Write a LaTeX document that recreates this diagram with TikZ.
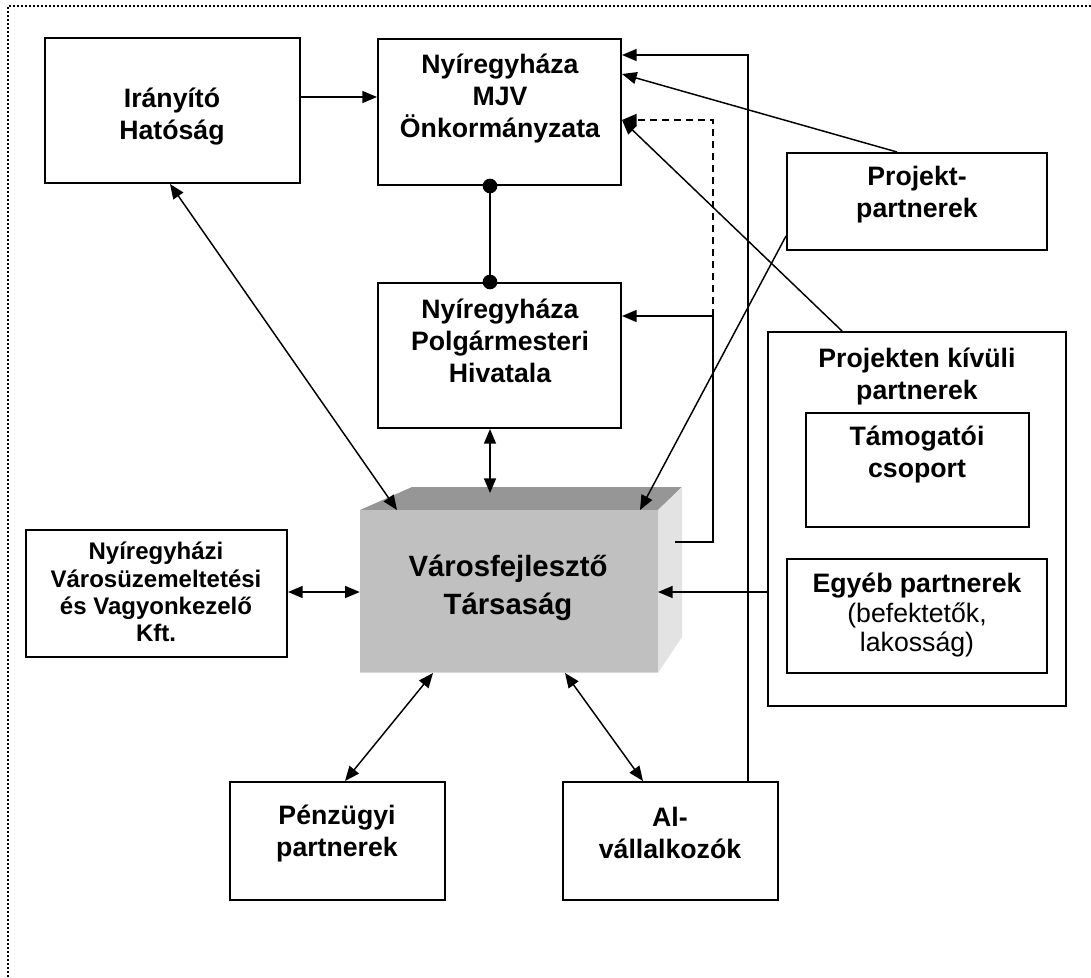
\documentclass[tikz,border=0pt]{standalone}
\usepackage{fontspec}
\setmainfont{Liberation Sans}
\usetikzlibrary{arrows.meta,fit}
\begin{document}
\begin{tikzpicture}[x=0.75pt,y=-0.75pt,
  box/.style={draw,line width=1.5pt,inner sep=0pt},
  lbl/.style={align=center,font=\fontsize{20}{24}\selectfont\bfseries,inner sep=0pt},
  conn/.style={line width=1.1pt},
  tip/.tip={Triangle[length=11pt,width=9pt]},
  arr/.style={conn,-tip},
  darr/.style={conn,tip-tip},
  border/.style={line width=1.6pt,dash pattern=on 1.5pt off 1.5pt}
  ]
\useasboundingbox (0,0) rectangle (1091,977);
\draw[border] (8,977) -- (8,6) -- (1091,6);

% boxes
\node[box,fit={(45,38) (300,183)}] (ir) {};
\node[box,fit={(378,39) (621,185)}] (mjv) {};
\node[box,fit={(378,283) (621,428)}] (pol) {};
\node[box,fit={(787,153) (1047,250)}] (pp) {};
\node[box,fit={(768,332) (1066,706)}] (pk) {};
\node[box,fit={(806,413) (1029,527)}] (tc) {};
\node[box,fit={(787,559) (1047,673)}] (ep) {};
\node[box,fit={(26,530) (287,657)}] (vu) {};
\node[box,fit={(230,782) (445,900)}] (pz) {};
\node[box,fit={(563,782) (778,900)}] (al) {};

% 3D box
\fill[fill={rgb,255:red,150;green,150;blue,150}] (360,510) -- (412,487) -- (682,487) -- (658,510) -- cycle;
\fill[fill={rgb,255:red,227;green,227;blue,227}] (658,510) -- (682,487) -- (682,637) -- (658,673) -- cycle;
\fill[fill={rgb,255:red,192;green,192;blue,192}] (360,510) rectangle (658,673);
\draw[white!85!black,line width=1pt] (360,672.5) -- (658,672.5);
\node[inner sep=0pt,minimum width=223.5pt,minimum height=122pt] (vf) at (509,591.5) {};

% texts
\node[lbl] at (172,117) {Irányító\\Hatóság};
\node[lbl] at (500,98) {Nyíregyháza\\MJV\\Önkormányzata};
\node[lbl] at (500,341) {Nyíregyháza\\Polgármesteri\\Hivatala};
\node[lbl] at (917,195) {Projekt-\\partnerek};
\node[lbl] at (917,376) {Projekten kívüli\\partnerek};
\node[lbl] at (917,454) {Támogatói\\csoport};
\node[lbl,font=\fontsize{20}{22}\selectfont\bfseries] at (917,615) {Egyéb partnerek\\\mdseries(befektetők,\\\mdseries lakosság)};
\node[lbl,font=\fontsize{18}{20.5}\selectfont\bfseries] at (156,592) {Nyíregyházi\\Városüzemeltetési\\és Vagyonkezelő\\Kft.};
\node[lbl,font=\fontsize{22}{28}\selectfont\bfseries] at (508,588) {Városfejlesztő\\Társaság};
\node[lbl] at (337,833) {Pénzügyi\\partnerek};
\node[lbl] at (670,833) {Al-\\vállalkozók};

% connection points
\coordinate (c1) at (713,316);
\coordinate (vfr) at (675,542);

% connectors
\draw[arr] (ir.east |- 0,97) -- (mjv.west |- 0,97);
\draw[arr] (al.north -| 748,0) |- (mjv.east |- 0,55);
\draw[arr] (pp.north -| 897,0) -- (mjv.east |- 0,74);
\draw[arr,dashed,dash pattern=on 5pt off 4pt] (c1) |- (mjv.east |- 0,120);
\draw[arr] (vfr) -| (c1) -- (pol.east |- c1);
\draw[arr] (pk.north -| 842,0) -- (mjv.east |- 0,120);
\draw[conn] (mjv.south -| 490,0) -- (pol.north -| 490,0);
\fill (mjv.south -| 490,0) circle (5.5pt);
\fill (pol.north -| 490,0) circle (5.5pt);
\draw[darr] (pol.south -| 490,0) -- (490,493);
\draw[darr] (ir.south -| 170,0) -- (397,510);
\draw[arr] (pp.west |- 0,236) -- (640,510);
\draw[darr] (vu.east |- 0,592) -- (vf.west |- 0,592);
\draw[arr] (pk.west |- 0,592) -- (658,592);
\draw[darr] (pz.north -| 345,0) -- (433,673);
\draw[darr] (al.north -| 643,0) -- (565,673);
\end{tikzpicture}
\end{document}
